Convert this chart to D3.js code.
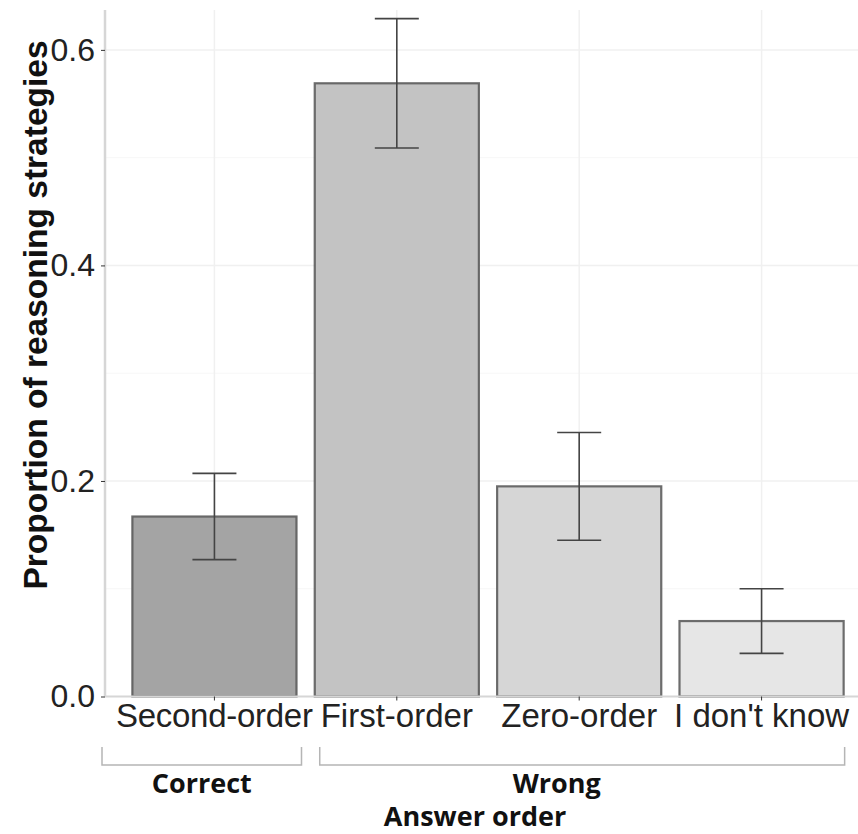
<!DOCTYPE html>
<html>
<head>
<meta charset="utf-8">
<script src="https://cdn.jsdelivr.net/npm/d3@7"></script>
<style>
  body { margin: 0; background: #fff; }
  svg { display: block; }
</style>
</head>
<body>
<div id="chart"></div>
<script>
// data
var categories = ["Second-order", "First-order", "Zero-order", "I don't know"];
var proportions = [0.167, 0.569, 0.195, 0.070];
var errLow = [0.127, 0.509, 0.145, 0.040];
var errHigh = [0.207, 0.629, 0.245, 0.100];
var barFills = ["#a4a4a4", "#c3c3c3", "#d6d6d6", "#e6e6e6"];
var yTicks = [0, 0.2, 0.4, 0.6];
var yMinor = [0.1, 0.3, 0.5];
var groups = [
  {label: "Correct", first: "Second-order", last: "Second-order"},
  {label: "Wrong", first: "First-order", last: "I don't know"}
];

var W = 858, H = 834;
var pLeft = 105, pRight = 871, pTop = 10, pBottom = 696.5;

var svg = d3.select("#chart").append("svg")
  .attr("width", W).attr("height", H);

var x = d3.scaleBand()
  .domain(categories)
  .range([pLeft, pRight])
  .paddingInner(0.1)
  .paddingOuter(0.15);

var y = d3.scaleLinear()
  .domain([0, 0.637])
  .range([pBottom, pTop]);

// grid
var grid = svg.append("g");
grid.selectAll("line.minor").data(yMinor).enter().append("line")
  .attr("x1", pLeft).attr("x2", W)
  .attr("y1", function(d){ return y(d); }).attr("y2", function(d){ return y(d); })
  .attr("stroke", "#f7f7f7").attr("stroke-width", 1);
grid.selectAll("line.major").data(yTicks.slice(1)).enter().append("line")
  .attr("x1", pLeft).attr("x2", W)
  .attr("y1", function(d){ return y(d); }).attr("y2", function(d){ return y(d); })
  .attr("stroke", "#f0f0f0").attr("stroke-width", 1.5);
grid.selectAll("line.vx").data(categories).enter().append("line")
  .attr("x1", function(d){ return x(d) + x.bandwidth()/2; })
  .attr("x2", function(d){ return x(d) + x.bandwidth()/2; })
  .attr("y1", pTop).attr("y2", pBottom)
  .attr("stroke", "#f0f0f0").attr("stroke-width", 1.5);

// bars
svg.selectAll("rect.bar").data(categories).enter().append("rect")
  .attr("class", "bar")
  .attr("x", function(d){ return x(d); })
  .attr("y", function(d, i){ return y(proportions[i]); })
  .attr("width", x.bandwidth())
  .attr("height", function(d, i){ return pBottom - y(proportions[i]); })
  .attr("fill", function(d, i){ return barFills[i]; })
  .attr("stroke", "#555").attr("stroke-width", 2.2).attr("stroke-opacity", 0.85);

// error bars
var eb = svg.append("g").attr("stroke", "#444").attr("stroke-width", 1.6);
var cap = 22;
categories.forEach(function(c, i){
  var cx = x(c) + x.bandwidth()/2;
  eb.append("line").attr("x1", cx).attr("x2", cx)
    .attr("y1", y(errLow[i])).attr("y2", y(errHigh[i]));
  eb.append("line").attr("x1", cx - cap).attr("x2", cx + cap)
    .attr("y1", y(errLow[i])).attr("y2", y(errLow[i]));
  eb.append("line").attr("x1", cx - cap).attr("x2", cx + cap)
    .attr("y1", y(errHigh[i])).attr("y2", y(errHigh[i]));
});

// axes
var yAxis = svg.append("g")
  .attr("transform", "translate(" + pLeft + ",0)")
  .call(d3.axisLeft(y).tickValues(yTicks).tickFormat(d3.format(".1f")).tickSize(4).tickPadding(6));
yAxis.select(".domain").attr("stroke", "#d6d6d6").attr("stroke-width", 2.5)
  .attr("d", "M0," + pTop + "V" + pBottom);
yAxis.selectAll(".tick line").attr("stroke", "#333");
yAxis.selectAll(".tick text")
  .attr("font-family", "'Liberation Sans', Arial, sans-serif")
  .attr("font-size", 32).attr("fill", "#222");

var xAxis = svg.append("g")
  .attr("transform", "translate(0," + pBottom + ")")
  .call(d3.axisBottom(x).tickSize(4).tickPadding(3));
xAxis.select(".domain").attr("stroke", "#d6d6d6").attr("stroke-width", 2)
  .attr("d", "M" + pLeft + ",0H" + W);
xAxis.selectAll(".tick line").attr("stroke", "#333");
xAxis.selectAll(".tick text")
  .attr("font-family", "'Liberation Sans', Arial, sans-serif")
  .attr("font-size", 33).attr("fill", "#222")
  .attr("dy", "0.71em")
  .attr("textLength", function(d){ return d === "Second-order" ? 197 : null; });

// y title
svg.append("text")
  .attr("transform", "translate(47,315) rotate(-90)")
  .attr("text-anchor", "middle")
  .attr("font-family", "'Liberation Sans', Arial, sans-serif")
  .attr("font-weight", "bold").attr("font-size", 33.5).attr("fill", "#111")
  .text("Proportion of reasoning strategies");

// group brackets
var br = svg.append("g");
groups.forEach(function(g, i){
  var x0 = i === 0 ? pLeft - 3 : x(g.first) + 5;
  var x1 = x(g.last) + x.bandwidth() + (i === 0 ? 5 : 1);
  br.append("path")
    .attr("d", "M" + x0 + ",747V765H" + x1 + "V747")
    .attr("fill", "none").attr("stroke", "#b5b5b5").attr("stroke-width", 1.5);
  br.append("text")
    .attr("x", i === 0 ? (x0 + x1) / 2 : x(g.first) + 242)
    .attr("y", 793)
    .attr("text-anchor", "middle")
    .attr("font-family", "'Open Sans', sans-serif")
    .attr("font-weight", "bold").attr("font-size", 27).attr("fill", "#111")
    .text(g.label);
});

svg.append("text")
  .attr("x", 475).attr("y", 826)
  .attr("text-anchor", "middle")
  .attr("font-family", "'Open Sans', sans-serif")
  .attr("font-weight", "bold").attr("font-size", 27).attr("fill", "#111")
  .text("Answer order");
</script>
</body>
</html>
